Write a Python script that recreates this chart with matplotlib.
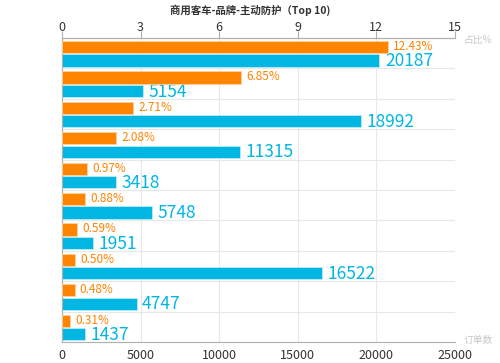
import matplotlib
matplotlib.use("Agg")
from matplotlib import pyplot as plt
import numpy as np

plt.rcParams["font.family"] = ["Noto Sans CJK SC", "DejaVu Sans"]

# brand names are blurred in the source image
brands = ["", "", "", "", "", "", "", "", "", ""]
share = [12.43, 6.85, 2.71, 2.08, 0.97, 0.88, 0.59, 0.50, 0.48, 0.31]
orders = [20187, 5154, 18992, 11315, 3418, 5748, 1951, 16522, 4747, 1437]
share_ticks = [0, 3, 6, 9, 12, 15]
order_ticks = [0, 5000, 10000, 15000, 20000, 25000]

orange = "#ff8400"
blue = "#00b7e3"
grid_c = "#e8e8e8"
axis_c = "#b0b0b0"


def main():
    fig = plt.figure(figsize=(5.0, 3.63), dpi=100)
    ax = fig.add_axes([62 / 500, 21 / 363, 393 / 500, 304 / 363])
    ax_top = ax.twiny()

    n = len(brands)
    idx = np.arange(n)
    ax.barh(idx + 0.74, orders, height=0.40, color=blue, edgecolor="#bfeaf6",
            linewidth=0.6, zorder=3)
    ax_top.barh(idx + 0.30, share, height=0.40, color=orange, edgecolor="#ffd0a0",
                linewidth=0.6, zorder=3)

    ax.set_xlim(0, 25000)
    ax_top.set_xlim(0, 15)
    ax.set_ylim(n, 0)

    for i in range(n):
        ax.text(orders[i] + 350, i + 0.76, str(orders[i]), color=blue,
                fontsize=12.5, va="center", ha="left", zorder=4)
        ax_top.text(share[i] + 0.2, i + 0.28, f"{share[i]:.2f}%", color=orange,
                    fontsize=8.5, va="center", ha="left", zorder=4)

    ax.set_xticks(order_ticks)
    ax.set_xticklabels([str(t) for t in order_ticks], fontsize=9, color="#333333")
    ax_top.set_xticks(share_ticks)
    ax_top.set_xticklabels([str(t) for t in share_ticks], fontsize=9, color="#333333")
    ax.set_yticks(idx + 0.5)
    ax.set_yticklabels(brands)
    ax.tick_params(axis="y", length=0)
    ax.tick_params(axis="x", length=0, pad=5)
    ax_top.tick_params(axis="x", length=5, color=axis_c, pad=-2)

    for x in order_ticks[1:]:
        ax.axvline(x, color=grid_c, linewidth=0.8, zorder=0)
    for i in range(1, n):
        ax.axhline(i, color=grid_c, linewidth=0.8, zorder=0)

    for a in (ax, ax_top):
        a.spines["right"].set_visible(False)
        for s in ("left", "top", "bottom"):
            a.spines[s].set_color(axis_c)
            a.spines[s].set_linewidth(0.8)
    ax_top.spines["bottom"].set_visible(False)

    fig.text(0.5, 1 - 10 / 363, "商用客车-品牌-主动防护（Top 10)", ha="center",
             va="center", fontsize=7.5, color="#333333", fontweight="bold")
    fig.text(478 / 500, 1 - 40 / 363, "占比%", ha="center", va="center",
             fontsize=7, color="#c8c8c8")
    fig.text(478 / 500, 1 - 340 / 363, "订单数", ha="center", va="center",
             fontsize=7, color="#c8c8c8")
    return fig


if __name__ == "__main__":
    fig = main()
    fig.savefig("out.png", dpi=100)
